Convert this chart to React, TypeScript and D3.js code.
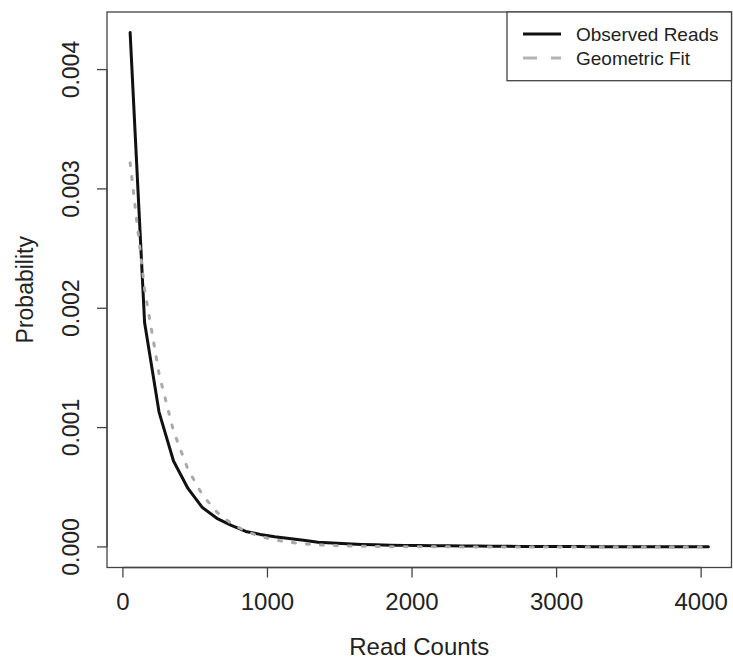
import React from "react";
import * as d3 from "d3";

const readCounts = [
  50, 150, 250, 350, 450, 550, 650, 750, 850, 950,
  1050, 1150, 1250, 1350, 1450, 1550, 1650, 1750, 1850, 1950,
  2050, 2150, 2250, 2350, 2450, 2550, 2650, 2750, 2850, 2950,
  3050, 3150, 3250, 3350, 3450, 3550, 3650, 3750, 3850, 3950, 4050,
];

const observedReads = [
  0.00431, 0.00188, 0.00113, 0.00072, 0.00049, 0.00033, 0.00024, 0.00018, 0.00013, 0.000105,
  0.000085, 0.00007, 0.000056, 0.00004, 0.000032, 0.000026, 0.000021, 0.000018, 0.000015, 0.000013,
  0.000011, 0.00001, 0.000009, 0.000008, 0.000007, 0.000006, 0.000005, 0.0000045, 0.000004, 0.0000035,
  0.000003, 0.0000028, 0.0000025, 0.0000022, 0.000002, 0.0000018, 0.0000016, 0.0000014, 0.0000013, 0.0000012, 0.0000011,
];

const geometricFit = [
  0.00322, 0.00216, 0.00145, 0.00097, 0.00065, 0.000436, 0.000292, 0.000196, 0.000131, 0.000088,
  0.000059, 0.0000395, 0.0000265, 0.0000178, 0.0000119, 0.000008, 0.0000054, 0.0000036, 0.0000024, 0.0000016,
  0.0000011, 0.0000007, 0.0000005, 0.0000003, 0.0000002, 0.0000001, 0.0000001, 0.0000001, 0.0000001, 0.0000001,
  0.0000001, 0.0000001, 0.0000001, 0.0000001, 0.0000001, 0.0000001, 0.0000001, 0.0000001, 0.0000001, 0.0000001, 0.0000001,
];

const xTicks = [0, 1000, 2000, 3000, 4000];
const yTicks = [0, 0.001, 0.002, 0.003, 0.004];
const legendLabels = ["Observed Reads", "Geometric Fit"];

const W = 733;
const H = 662;
const plot = { left: 107, right: 731.5, top: 12, bottom: 567.5 };
const FONT = "'Liberation Sans', Arial, Helvetica, sans-serif";

function extend(ext: [number, number]): [number, number] {
  const d = (ext[1] - ext[0]) * 0.04;
  return [ext[0] - d, ext[1] + d];
}

export default function App() {
  const xExt = d3.extent(readCounts) as [number, number];
  const yExt = d3.extent([...observedReads, ...geometricFit]) as [number, number];
  const x = d3.scaleLinear().domain(extend(xExt)).range([plot.left, plot.right]);
  const y = d3.scaleLinear().domain(extend([0, yExt[1]])).range([plot.bottom, plot.top]);

  const line = d3
    .line<number>()
    .x((_, i) => x(readCounts[i]))
    .y((d) => y(d));

  const obsPath = line(observedReads) || "";
  const fitPath = line(geometricFit) || "";

  const axisColor = "#444";
  const tickLen = 10;

  const lg = { left: 507, top: 12, right: plot.right, bottom: 80.7 };

  return (
    <svg
      width={W}
      height={H}
      style={{ position: "absolute", left: 0, top: 0, background: "#fff" }}
      fontFamily={FONT}
    >
      <rect x={0} y={0} width={W} height={H} fill="#fff" />
      {/* data lines */}
      <path d={obsPath} fill="none" stroke="#111" strokeWidth={3} strokeLinejoin="round" strokeLinecap="round" />
      <path
        d={fitPath}
        fill="none"
        stroke="#a9a9a9"
        strokeWidth={3}
        strokeDasharray="3 11"
        strokeLinecap="round"
      />
      {/* box */}
      <rect
        x={plot.left}
        y={plot.top}
        width={plot.right - plot.left}
        height={plot.bottom - plot.top}
        fill="none"
        stroke={axisColor}
        strokeWidth={1.3}
      />
      {/* x axis */}
      <line x1={x(xTicks[0])} x2={x(xTicks[xTicks.length - 1])} y1={plot.bottom} y2={plot.bottom} stroke={axisColor} strokeWidth={1.3} />
      {xTicks.map((t) => (
        <g key={"x" + t}>
          <line x1={x(t)} x2={x(t)} y1={plot.bottom} y2={plot.bottom + tickLen} stroke={axisColor} strokeWidth={1.3} />
          <text x={x(t)} y={609.5} fontSize={24} textAnchor="middle" fill="#222">
            {t}
          </text>
        </g>
      ))}
      <text x={(plot.left + plot.right) / 2} y={655} fontSize={24} textAnchor="middle" fill="#222">
        Read Counts
      </text>
      {/* y axis */}
      <line x1={plot.left} x2={plot.left} y1={y(yTicks[0])} y2={y(yTicks[yTicks.length - 1])} stroke={axisColor} strokeWidth={1.3} />
      {yTicks.map((t) => (
        <g key={"y" + t}>
          <line x1={plot.left - tickLen} x2={plot.left} y1={y(t)} y2={y(t)} stroke={axisColor} strokeWidth={1.3} />
          <text
            transform={`translate(78.5,${y(t)}) rotate(-90)`}
            fontSize={23}
            textAnchor="middle"
            fill="#222"
          >
            {t.toFixed(3)}
          </text>
        </g>
      ))}
      <text
        transform={`translate(33,${(plot.top + plot.bottom) / 2}) rotate(-90)`}
        fontSize={23}
        textAnchor="middle"
        fill="#222"
      >
        Probability
      </text>
      {/* legend */}
      <rect
        x={lg.left}
        y={lg.top}
        width={lg.right - lg.left}
        height={lg.bottom - lg.top}
        fill="#fff"
        stroke={axisColor}
        strokeWidth={1.3}
      />
      <line x1={523} x2={561} y1={34} y2={34} stroke="#111" strokeWidth={3} />
      <line x1={523} x2={561} y1={58} y2={58} stroke="#b3b3b3" strokeWidth={3} strokeDasharray="14 14" />
      <text x={576} y={40.5} fontSize={19} fill="#222">
        {legendLabels[0]}
      </text>
      <text x={576} y={64.5} fontSize={19} fill="#222">
        {legendLabels[1]}
      </text>
    </svg>
  );
}
